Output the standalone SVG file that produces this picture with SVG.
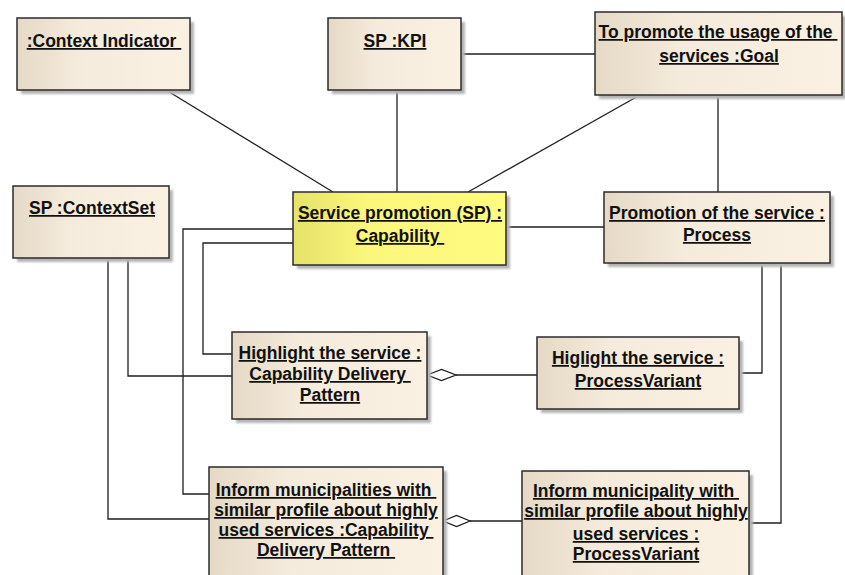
<svg xmlns="http://www.w3.org/2000/svg" width="845" height="575" viewBox="0 0 845 575">
<defs>
<linearGradient id="tan" x1="0" y1="0" x2="1" y2="0">
<stop offset="0" stop-color="#e5d9c6"/>
<stop offset="0.35" stop-color="#f5ebdc"/>
<stop offset="1" stop-color="#fbf1e3"/>
</linearGradient>
<linearGradient id="yel" x1="0" y1="0" x2="1" y2="0">
<stop offset="0" stop-color="#e6e26a"/>
<stop offset="0.35" stop-color="#fbf77c"/>
<stop offset="1" stop-color="#fffa80"/>
</linearGradient>
<filter id="blur" x="-10%" y="-10%" width="120%" height="120%"><feGaussianBlur stdDeviation="1"/></filter>
</defs>
<style>
.box{fill:url(#tan);stroke:#2b2b2b;stroke-width:1.5}
.ybox{fill:url(#yel);stroke:#2b2b2b;stroke-width:1.5}
.sh{fill:#b5b5b5;filter:url(#blur)}
.t{font-family:"Liberation Sans",Arial,sans-serif;font-weight:bold;font-size:17.5px;fill:#111;text-anchor:middle;text-decoration:underline}
.c{fill:none;stroke:#1e1e1e;stroke-width:1.3}
.d{fill:#fff;stroke:#1e1e1e;stroke-width:1.3}
</style>
<g id="connectors">
<line class="c" x1="166" y1="90" x2="333" y2="192"/>
<line class="c" x1="397" y1="90" x2="397" y2="192"/>
<line class="c" x1="461" y1="54" x2="595" y2="54"/>
<line class="c" x1="640" y1="95" x2="468" y2="192"/>
<line class="c" x1="718" y1="95" x2="718" y2="192"/>
<line class="c" x1="506" y1="227" x2="604" y2="227"/>
<polyline class="c" points="293,229 183,229 183,494 209,494"/>
<polyline class="c" points="293,243 203,243 203,354 232,354"/>
<polyline class="c" points="108,258 108,519 209,519"/>
<polyline class="c" points="128,258 128,376 232,376"/>
<line class="c" x1="456" y1="375" x2="537" y2="375"/>
<polygon class="d" points="427,375 441.5,369.5 456,375 441.5,380.5"/>
<polyline class="c" points="739,373 762,373 762,263"/>
<polyline class="c" points="781,263 781,523 749,523"/>
<line class="c" x1="470" y1="521" x2="522" y2="521"/>
<polygon class="d" points="443,521 456.5,515.5 470,521 456.5,526.5"/>
</g>
<g id="context-indicator">
<rect class="sh" x="21" y="22" width="173" height="72"/>
<rect class="box" x="17" y="18" width="173" height="72"/>
<text class="t" x="104" y="47" xml:space="preserve">:Context Indicator </text>
</g>
<g id="kpi">
<rect class="sh" x="332" y="22" width="133" height="72"/>
<rect class="box" x="328" y="18" width="133" height="72"/>
<text class="t" x="395" y="47">SP :KPI</text>
</g>
<g id="goal">
<rect class="sh" x="599" y="16" width="247" height="83"/>
<rect class="box" x="595" y="12" width="247" height="83"/>
<text class="t" x="718" y="38" xml:space="preserve">To promote the usage of the </text>
<text class="t" x="719" y="62">services :Goal</text>
</g>
<g id="contextset">
<rect class="sh" x="17" y="190" width="156" height="72"/>
<rect class="box" x="13" y="186" width="156" height="72"/>
<text class="t" x="92" y="214">SP :ContextSet</text>
</g>
<g id="capability">
<rect class="sh" x="297" y="196" width="213" height="73"/>
<rect class="ybox" x="293" y="192" width="213" height="73"/>
<text class="t" x="400" y="219">Service promotion (SP) :</text>
<text class="t" x="400" y="242" xml:space="preserve">Capability </text>
</g>
<g id="process">
<rect class="sh" x="608" y="196" width="226" height="71"/>
<rect class="box" x="604" y="192" width="226" height="71"/>
<text class="t" x="717" y="219">Promotion of the service :</text>
<text class="t" x="717" y="241">Process</text>
</g>
<g id="highlight-cdp">
<rect class="sh" x="236" y="336" width="195" height="87"/>
<rect class="box" x="232" y="332" width="195" height="87"/>
<text class="t" x="330" y="359">Highlight the service :</text>
<text class="t" x="330" y="380" xml:space="preserve">Capability Delivery </text>
<text class="t" x="330" y="401">Pattern</text>
</g>
<g id="highlight-pv">
<rect class="sh" x="541" y="341" width="202" height="72"/>
<rect class="box" x="537" y="337" width="202" height="72"/>
<text class="t" x="638" y="364">Higlight the service :</text>
<text class="t" x="638" y="387">ProcessVariant</text>
</g>
<g id="inform-cdp">
<rect class="sh" x="213" y="471" width="234" height="130"/>
<rect class="box" x="209" y="467" width="234" height="130"/>
<text class="t" x="326" y="496" xml:space="preserve">Inform municipalities with </text>
<text class="t" x="326" y="516">similar profile about highly</text>
<text class="t" x="326" y="536" xml:space="preserve">used services :Capability </text>
<text class="t" x="326" y="556" xml:space="preserve">Delivery Pattern </text>
</g>
<g id="inform-pv">
<rect class="sh" x="526" y="475" width="227" height="130"/>
<rect class="box" x="522" y="471" width="227" height="130"/>
<text class="t" x="636" y="497" xml:space="preserve">Inform municipality with </text>
<text class="t" x="636" y="517">similar profile about highly</text>
<text class="t" x="636" y="540">used services :</text>
<text class="t" x="636" y="560">ProcessVariant</text>
</g>
</svg>
